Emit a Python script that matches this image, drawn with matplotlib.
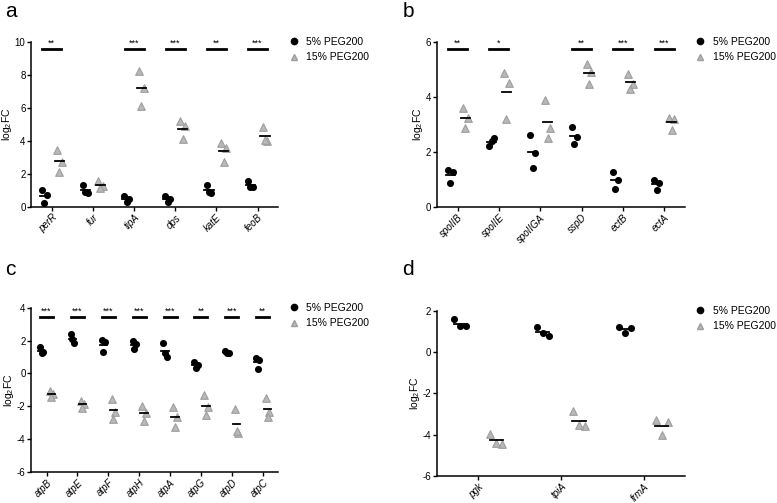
import numpy as np
import matplotlib
matplotlib.use('Agg')
import matplotlib.pyplot as plt
from matplotlib.lines import Line2D

plt.rcParams['font.family'] = ['Liberation Sans', 'DejaVu Sans']
plt.rcParams['mathtext.fontset'] = 'custom'
plt.rcParams['mathtext.rm'] = 'Liberation Sans'
plt.rcParams['axes.unicode_minus'] = False

# Panel a
genes_a = ['perR', 'fur', 'tipA', 'dps', 'katE', 'feoB']
low_a = [[1.0, 0.74, 0.22], [1.35, 0.85, 0.9], [0.65, 0.5, 0.28],
         [0.65, 0.5, 0.28], [1.35, 0.85, 0.9], [1.6, 1.2, 1.22]]
high_a = [[3.46, 2.7, 2.15], [1.55, 1.25, 1.15], [8.25, 7.2, 6.15],
          [5.2, 4.9, 4.1], [3.86, 3.6, 2.75], [4.87, 4.0, 4.07]]
sig_a = ['**', '', '***', '***', '**', '***']

# Panel b
genes_b = ['spoIIB', 'spoIIE', 'spoIIGA', 'sspD', 'ectB', 'ectA']
low_b = [[1.35, 1.26, 0.87], [2.2, 2.52, 2.4], [2.6, 1.98, 1.41],
         [2.9, 2.54, 2.29], [1.27, 0.99, 0.66], [0.99, 0.87, 0.6]]
high_b = [[3.59, 3.22, 2.86], [4.88, 4.5, 3.19], [3.89, 2.86, 2.5],
          [5.19, 4.92, 4.49], [4.83, 4.49, 4.28], [3.22, 3.2, 2.8]]
sig_b = ['**', '*', '', '**', '***', '***']

# Panel c
genes_c = ['atpB', 'atpE', 'atpF', 'atpH', 'atpA', 'atpG', 'atpD', 'atpC']
low_c = [[1.62, 1.3, 1.22], [2.43, 1.87, 2.07], [2.03, 1.91, 1.3],
         [1.97, 1.81, 1.5], [1.83, 1.01, 1.22], [0.69, 0.51, 0.34],
         [1.36, 1.26, 1.22], [0.93, 0.79, 0.28]]
high_c = [[-1.07, -1.28, -1.42], [-1.68, -1.89, -2.09], [-1.58, -2.35, -2.76],
          [-1.99, -2.43, -2.9], [-2.05, -2.66, -3.25], [-1.34, -2.03, -2.54],
          [-2.15, -3.61, -3.51], [-1.5, -2.35, -2.64]]
sig_c = ['***', '***', '***', '***', '***', '**', '***', '**']

# Panel d
genes_d = ['pgk', 'tpiA', 'frmA']
low_d = [[1.61, 1.27, 1.27], [1.24, 0.79, 0.95], [1.21, 1.16, 0.95]]
high_d = [[-3.96, -4.44, -4.4], [-2.87, -3.59, -3.54], [-3.27, -3.4, -4.02]]
sig_d = ['***', '***', '***']

fig = plt.figure(figsize=(7.77, 5.03), dpi=100)

GRAY_FACE = '#b8b8b8'
GRAY_EDGE = '#9e9e9e'
spread = np.array([-1.0, 1.0, 0.0])


def panel(rect, genes, low, high, sig, ylim, yticks, sig_y, off, mw, label, lab_xy):
    ax = fig.add_axes(rect)
    for i in range(len(genes)):
        lo = np.array(low[i])
        hi = np.array(high[i])
        xl = i - off + spread * off * 0.33
        xh = i + off + spread * off * 0.33
        ax.scatter(xl, lo, s=26, marker='o', color='black', zorder=3, linewidths=0)
        ax.scatter(xh, hi, s=30, marker='^', facecolor=GRAY_FACE,
                   edgecolor=GRAY_EDGE, linewidths=0.8, zorder=3)
        ax.plot([i - off - mw, i - off + mw], [lo.mean()] * 2, color='black', lw=1.3, zorder=4)
        ax.plot([i + off - mw, i + off + mw], [hi.mean()] * 2, color='black', lw=1.3, zorder=4)
        if sig[i]:
            ax.plot([i - off - 0.05, i + off + 0.05], [sig_y, sig_y], color='black', lw=2)
            ax.annotate(sig[i], (i, sig_y), xytext=(0, 0.5), textcoords='offset points',
                        ha='center', va='bottom', fontsize=6.5)
    ax.set_xlim(-0.5, len(genes) - 0.5)
    ax.set_ylim(*ylim)
    ax.set_yticks(yticks)
    ax.set_xticks(range(len(genes)))
    ax.set_xticklabels(genes, rotation=45, ha='right', rotation_mode='anchor',
                       fontstyle='italic', fontsize=7)
    ax.tick_params(axis='y', labelsize=7, width=1, length=3, pad=1)
    ax.tick_params(axis='x', width=1, length=3, pad=1)
    for sp in ['top', 'right']:
        ax.spines[sp].set_visible(False)
    for sp in ['left', 'bottom']:
        ax.spines[sp].set_linewidth(1.1)
    ax.set_ylabel(r'log$_2$FC', fontsize=7.5, labelpad=0.5)
    handles = [Line2D([], [], marker='o', ls='', color='black', markersize=4.5),
               Line2D([], [], marker='^', ls='', markerfacecolor=GRAY_FACE,
                      markeredgecolor=GRAY_EDGE, markersize=4.5)]
    ax.legend(handles, ['5% PEG200', '15% PEG200'], loc='upper left',
              bbox_to_anchor=(1.02, 1.055), borderaxespad=0, frameon=False,
              fontsize=7.5, handletextpad=0.6, labelspacing=0.5, handlelength=1.2)
    fig.text(lab_xy[0], lab_xy[1], label, fontsize=15, va='baseline')
    return ax


panel([0.0400, 0.5885, 0.318, 0.328], genes_a, low_a, high_a, sig_a,
      (0, 10), [0, 2, 4, 6, 8, 10], 9.6, 0.18, 0.11, 'a', (0.006, 0.966))
panel([0.5624, 0.5885, 0.319, 0.328], genes_b, low_b, high_b, sig_b,
      (0, 6), [0, 2, 4, 6], 5.76, 0.18, 0.11, 'b', (0.518, 0.966))
panel([0.0400, 0.0620, 0.318, 0.326], genes_c, low_c, high_c, sig_c,
      (-6, 4), [-6, -4, -2, 0, 2, 4], 3.45, 0.16, 0.12, 'c', (0.006, 0.453))
panel([0.5624, 0.0540, 0.319, 0.328], genes_d, low_d, high_d, sig_d,
      (-6, 2), [-6, -4, -2, 0, 2], 2.17, 0.22, 0.08, 'd', (0.518, 0.453))

fig.savefig('out.png', dpi=100)
